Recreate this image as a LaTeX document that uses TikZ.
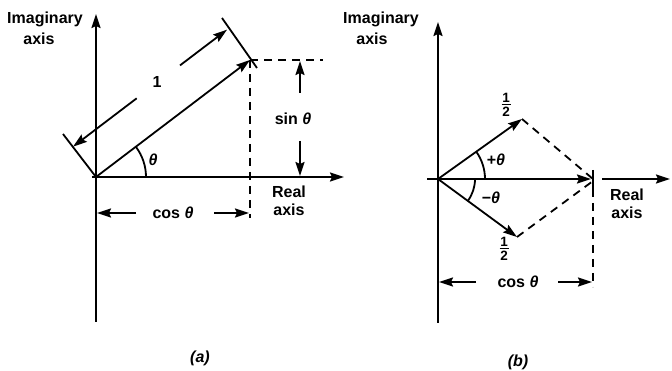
\documentclass[tikz,border=0pt]{standalone}
\usepackage{fontspec}
\setmainfont{Liberation Sans}
\usetikzlibrary{arrows.meta}
\tikzset{
  ln/.style={line width=1.8pt},
  arr/.style={line width=1.8pt,-{Stealth[length=14pt,width=9pt,inset=2pt]}},
  dsh/.style={line width=1.8pt,dash pattern=on 8pt off 6pt},
  lbl/.style={font=\fontsize{16}{18}\selectfont\bfseries,inner sep=0pt},
  half/.style={font=\fontsize{13.5}{14}\selectfont\bfseries,inner sep=0pt},
  frule/.style={line width=1.3pt},
}
\newcommand{\thet}{\textit{θ}}
\begin{document}
\begin{tikzpicture}[x=1pt,y=1pt]
\useasboundingbox (0,0) rectangle (672,-371);
% ---------- panel (a)
\coordinate (O) at (96,-177);
\coordinate (Ytop) at (96,-14);
\coordinate (Ybot) at (96,-322);
\coordinate (Xl) at (92,-177);
\coordinate (Xr) at (344,-177);
\coordinate (P) at (250,-60);
\coordinate (Ph) at (323,-60);
\coordinate (Pv) at (250,-218);
\coordinate (T1a) at (63,-134);
\coordinate (T2a) at (257,-68);
\coordinate (T2b) at (222,-18);
\coordinate (A1) at (73,-146.7);
\coordinate (B1) at (227,-29.7);
\coordinate (S1) at (136.7,-98.3);
\coordinate (S2) at (180,-65.4);
\coordinate (Arc1) at (146,-177);
\coordinate (sU0) at (300,-93);
\coordinate (sU1) at (300,-61);
\coordinate (sD0) at (300,-141);
\coordinate (sD1) at (300,-176);
\coordinate (cL0) at (136,-213);
\coordinate (cL1) at (97,-213);
\coordinate (cR0) at (214,-213);
\coordinate (cR1) at (249,-213);

\draw[arr] (Ybot) -- (Ytop);
\draw[arr] (Xl) -- (Xr);
\draw[arr] (O) -- (P);
\draw[dsh] (P) -- (Ph);
\draw[dsh] (P) -- (Pv);
\draw[ln] (O) -- (T1a);
\draw[ln] (T2a) -- (T2b);
\draw[arr] (S1) -- (A1);
\draw[arr] (S2) -- (B1);
\draw[ln] (Arc1) arc[start angle=0,end angle=37.2,radius=50pt];
\draw[arr] (sU0) -- (sU1);
\draw[arr] (sD0) -- (sD1);
\draw[arr] (cL0) -- (cL1);
\draw[arr] (cR0) -- (cR1);

\node[lbl] (one) at (157,-82) {1};
\node[lbl] (tha) at (153,-160) {\thet};
\node[lbl] (sin) at (293,-119) {sin \thet};
\node[lbl] (cosa) at (173,-213) {cos \thet};
\node[lbl,align=center] (reala) at (289,-201) {Real\\axis};
\node[lbl] (imaga) at (45,-19) {Imaginary};
\node[lbl] (axa) at (39,-39) {axis};
\node[lbl] (capa) at (200,-358) {\textit{(a)}};

% ---------- panel (b)
\coordinate (O2) at (438,-179);
\coordinate (Y2t) at (438,-22);
\coordinate (Y2b) at (438,-323);
\coordinate (X2l) at (427,-179);
\coordinate (X2m) at (591,-179);
\coordinate (Tk1) at (593,-170);
\coordinate (Tk2) at (593,-189);
\coordinate (R2a) at (602,-179);
\coordinate (R2b) at (670,-179);
\coordinate (U) at (522,-119);
\coordinate (L) at (517,-237);
\coordinate (Mu) at (593,-179);
\coordinate (Ml) at (593,-181);
\coordinate (V2) at (593,-287);
\coordinate (dL0) at (476,-282);
\coordinate (dL1) at (439,-282);
\coordinate (dR0) at (558,-282);
\coordinate (dR1) at (592,-282);
\coordinate (ArcP) at (485,-179);
\coordinate (ArcM) at (475,-179);

\draw[arr] (Y2b) -- (Y2t);
\draw[arr] (X2l) -- (X2m);
\draw[ln] (Tk1) -- (Tk2);
\draw[arr] (R2a) -- (R2b);
\draw[arr] (O2) -- (U);
\draw[arr] (O2) -- (L);
\draw[dsh] (U) -- (Mu);
\draw[dsh] (L) -- (Ml);
\draw[dsh] (Tk2) -- (V2);
\draw[arr] (dL0) -- (dL1);
\draw[arr] (dR0) -- (dR1);
\draw[ln] (ArcP) arc[start angle=0,end angle=35.5,radius=47pt];
\draw[ln] (ArcM) arc[start angle=0,end angle=-36.3,radius=37pt];

% fractions 1/2
\node[half] (hun) at (506,-97.5) {1};
\node[half] (hud) at (506,-112) {2};
\coordinate (hur1) at (501.5,-104.5);
\coordinate (hur2) at (510.5,-104.5);
\draw[frule] (hur1) -- (hur2);
\node[half] (hln) at (504,-241.5) {1};
\node[half] (hld) at (504,-256) {2};
\coordinate (hlr1) at (499.5,-248.5);
\coordinate (hlr2) at (508.5,-248.5);
\draw[frule] (hlr1) -- (hlr2);

\node[lbl] (pth) at (496,-160) {+\thet};
\node[lbl] (mth) at (491,-198) {−\thet};
\node[lbl] (cosb) at (518,-282) {cos \thet};
\node[lbl,align=center] (realb) at (627,-204) {Real\\axis};
\node[lbl] (imagb) at (381,-19) {Imaginary};
\node[lbl] (axb) at (372,-39) {axis};
\node[lbl] (capb) at (518,-362) {\textit{(b)}};
\end{tikzpicture}
\end{document}
